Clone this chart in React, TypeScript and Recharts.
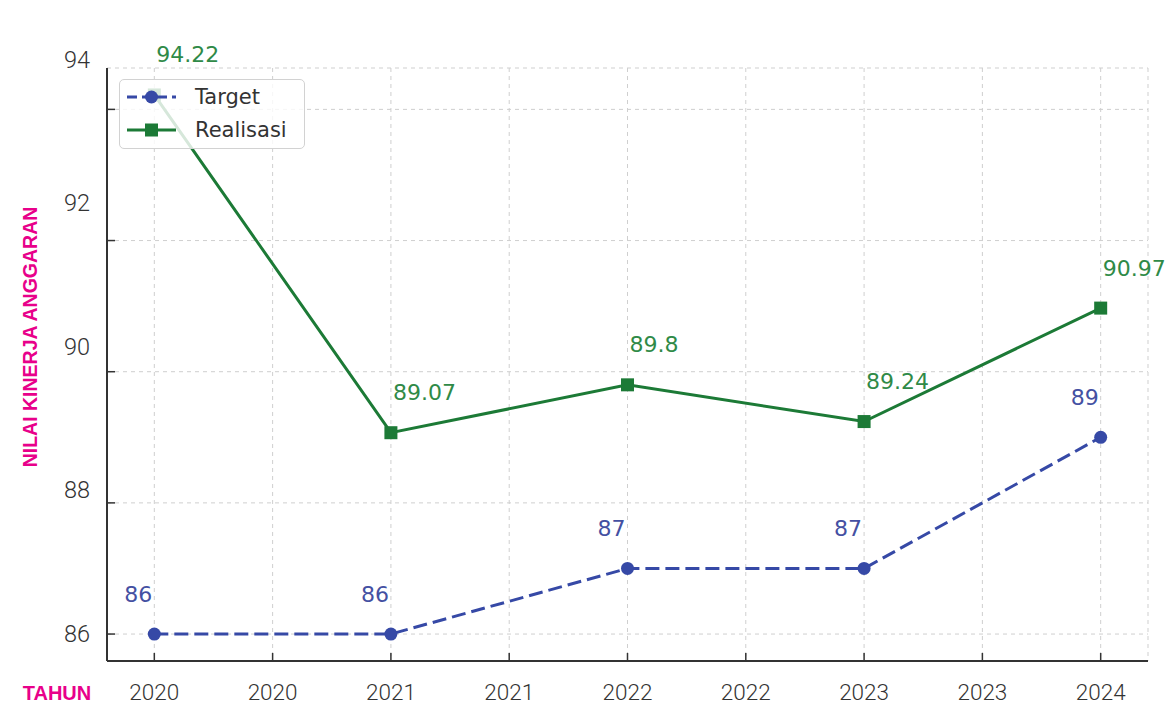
import { CartesianGrid, LabelList, Legend, Line, LineChart, XAxis, YAxis } from 'recharts';

const years = [2020, 2021, 2022, 2023, 2024];
const target = [86, 86, 87, 87, 89];
const realisasi = [94.22, 89.07, 89.8, 89.24, 90.97];
const xTicks = [2020, 2020.5, 2021, 2021.5, 2022, 2022.5, 2023, 2023.5, 2024];
const yTicks = [86, 88, 90, 92, 94];
const legendOrder = ['target', 'realisasi'];

const data = years.map((year, i) => ({ year, target: target[i], realisasi: realisasi[i] }));

const C = {
  blue: '#3649a6',
  blueText: '#4450a2',
  green: '#1c7a36',
  greenText: '#2f8a47',
  axis: '#333333',
  grid: '#cfcfcf',
  tick: '#333333',
  pink: '#e8008a',
};

const TICK_FONT = 'Roboto, "Liberation Sans", sans-serif';
const LABEL_FONT = '"DejaVu Sans", sans-serif';

function YTick({ x, y, payload }: any) {
  const v = payload.value as number;
  // the value labels in the source sit a little higher than their tick marks
  const shift = (v - 86) * 6.2;
  return (
    <g>
      <line x1={x} y1={y} x2={x + 8} y2={y} stroke={C.axis} strokeWidth={1.5} />
      <text
        x={x - 17}
        y={y - shift}
        textAnchor="end"
        dominantBaseline="central"
        fontFamily={TICK_FONT}
        fontWeight={300}
        fontSize={23.5}
        fill={C.tick}
      >
        {v}
      </text>
    </g>
  );
}

function XTick({ x, y, payload }: any) {
  return (
    <g>
      <line x1={x} y1={y} x2={x} y2={y - 8} stroke={C.axis} strokeWidth={1.5} />
      <text
        x={x}
        y={y + 31}
        textAnchor="middle"
        dominantBaseline="central"
        fontFamily={TICK_FONT}
        fontWeight={300}
        fontSize={22.5}
        fill={C.tick}
      >
        {Math.floor(payload.value)}
      </text>
    </g>
  );
}

function LegendBox({ payload }: any) {
  const items = [...(payload || [])].sort(
    (a: any, b: any) => legendOrder.indexOf(a.dataKey) - legendOrder.indexOf(b.dataKey),
  );
  return (
    <div
      style={{
        boxSizing: 'border-box',
        width: 186,
        height: 70,
        border: '1px solid #d2d2d2',
        borderRadius: 5,
        background: 'rgba(255,255,255,0.82)',
        position: 'relative',
        fontFamily: LABEL_FONT,
        fontSize: 21,
        color: '#333',
      }}
    >
      {items.map((it: any, i: number) => {
        const isTarget = it.dataKey === 'target';
        const cy = 17 + i * 33;
        return (
          <div key={it.value} style={{ position: 'absolute', left: 0, top: cy - 14, height: 28, width: 186 }}>
            <svg width={60} height={28} style={{ position: 'absolute', left: 0, top: 0 }}>
              <line
                x1={7}
                y1={14}
                x2={56}
                y2={14}
                stroke={it.color}
                strokeWidth={3}
                strokeDasharray={isTarget ? '10 5' : undefined}
              />
              {isTarget ? (
                <circle cx={31.5} cy={14} r={6.5} fill={it.color} />
              ) : (
                <rect x={25} y={7.5} width={13} height={13} fill={it.color} />
              )}
            </svg>
            <span style={{ position: 'absolute', left: 75, top: 0, lineHeight: '28px' }}>{it.value}</span>
          </div>
        );
      })}
    </div>
  );
}

function GreenLabel(p: any) {
  return (
    <text x={p.x + 2} y={p.y - 40} dominantBaseline="central" fontFamily={LABEL_FONT} fontSize={22} fill={C.greenText}>
      {p.value}
    </text>
  );
}

function BlueLabel(p: any) {
  return (
    <text
      x={p.x - 2}
      y={p.y - 40}
      textAnchor="end"
      dominantBaseline="central"
      fontFamily={LABEL_FONT}
      fontSize={22}
      fill={C.blueText}
    >
      {p.value}
    </text>
  );
}

export default function App() {
  return (
    <div style={{ position: 'absolute', left: 0, top: 0, background: '#fff' }}>
      <LineChart width={1170} height={707} data={data} margin={{ top: 68, right: 22, bottom: 0, left: 0 }}>
        <CartesianGrid stroke={C.grid} strokeDasharray="4 4" />
        <XAxis
          type="number"
          dataKey="year"
          domain={[2019.8, 2024.2]}
          ticks={xTicks}
          interval={0}
          height={46}
          tickSize={0}
          tickMargin={0}
          tickLine={false}
          axisLine={{ stroke: C.axis, strokeWidth: 2 }}
          tick={(p: any) => <XTick {...p} />}
          allowDataOverflow
          label={() => (
            <text
              x={57}
              y={693}
              textAnchor="middle"
              dominantBaseline="central"
              fontFamily='"Liberation Sans", Arial, sans-serif'
              fontWeight="bold"
              fontSize={20}
              fill={C.pink}
            >
              TAHUN
            </text>
          )}
        />
        <YAxis
          type="number"
          domain={[85.589, 94.631]}
          ticks={yTicks}
          interval={0}
          width={107}
          tickSize={0}
          tickMargin={0}
          tickLine={false}
          axisLine={{ stroke: C.axis, strokeWidth: 2 }}
          tick={(p: any) => <YTick {...p} />}
          allowDataOverflow
          label={() => (
            <text
              x={30}
              y={337}
              transform="rotate(-90 30 337)"
              textAnchor="middle"
              dominantBaseline="central"
              fontFamily='"Liberation Sans", Arial, sans-serif'
              fontWeight="bold"
              fontSize={19.5}
              fill={C.pink}
            >
              NILAI KINERJA ANGGARAN
            </text>
          )}
        />
        <Line
          type="linear"
          dataKey="target"
          name="Target"
          stroke={C.blue}
          strokeWidth={3}
          strokeDasharray="14 6"
          dot={{ r: 6.5, fill: C.blue, stroke: 'none' }}
          activeDot={false}
          isAnimationActive={false}
        >
          <LabelList dataKey="target" content={BlueLabel} />
        </Line>
        <Line
          type="linear"
          dataKey="realisasi"
          name="Realisasi"
          stroke={C.green}
          strokeWidth={3}
          dot={(p: any) => (
            <rect key={`sq-${p.index}`} x={p.cx - 6.5} y={p.cy - 6.5} width={13} height={13} fill={C.green} />
          )}
          activeDot={false}
          isAnimationActive={false}
        >
          <LabelList dataKey="realisasi" content={GreenLabel} />
        </Line>
        <Legend
          layout="horizontal"
          verticalAlign="middle"
          align="center"
          content={(p: any) => <LegendBox {...p} />}
          wrapperStyle={{ position: 'absolute', left: 119, top: 79, width: 186, height: 70 }}
        />
      </LineChart>
    </div>
  );
}
